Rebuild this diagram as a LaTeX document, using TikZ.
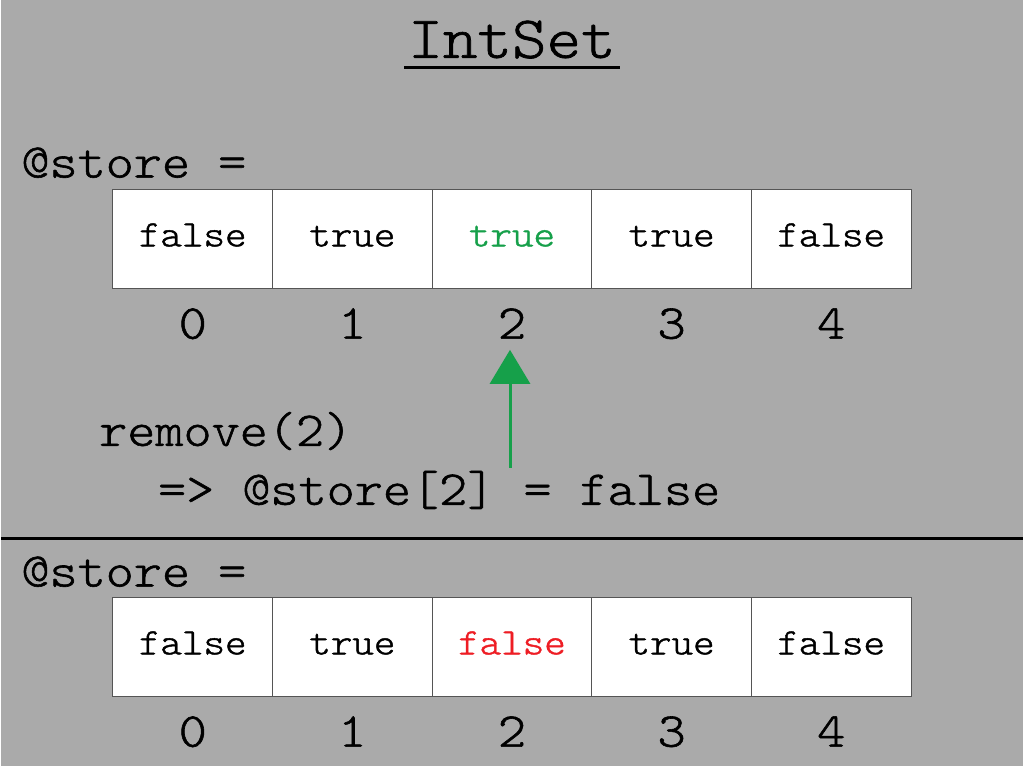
\documentclass[tikz,border=0pt]{standalone}
\usepackage{fontspec}
\setmonofont{lmmonolt10-regular.otf}[FakeStretch=1.1, FakeBold=1.2]
\usetikzlibrary{arrows.meta}

\definecolor{slidegray}{HTML}{AAAAAA}
\definecolor{cellline}{HTML}{555555}
\definecolor{pickgreen}{HTML}{16A04A}
\definecolor{dropred}{HTML}{EE1D24}

\tikzset{
  cell/.style={draw=cellline, line width=1pt, fill=white, minimum width=160pt,
    minimum height=99pt, inner sep=0pt, text height=15pt, text depth=0pt,
    font=\fontsize{37.4}{42}\selectfont\ttfamily},
  index/.style={anchor=base, inner sep=11pt, font=\fontsize{48.8}{56}\selectfont\ttfamily},
  code/.style={anchor=base west, inner sep=0pt, font=\fontsize{48.8}{56}\selectfont\ttfamily},
}

\begin{document}
\begin{tikzpicture}[x=1pt, y=-1pt]

    % Slide background
    \fill[slidegray] (0,0) rectangle (1024,768);

    % Title with underline
    \node[anchor=base, inner sep=0pt, inner xsep=4pt,
      font=\fontsize{60}{66}\selectfont\ttfamily] (title) at (512,58) {IntSet};
    \draw[line width=3pt] ([yshift=-10pt]title.base west) -- ([yshift=-10pt]title.base east);

    % Store before the call
    \node[code] (topstore) at (20,178) {@store =};
    \foreach \val/\col [count=\i from 0] in {false/black, true/black, true/pickgreen, true/black, false/black} {
        \node[cell, text=\col] (t\i) at (192+160*\i,239.5) {\val};
        \node[index] (ti\i) at ([yshift=-50pt]t\i.south) {\i};
    }

    % The call and what it does
    \node[code] (call) at (98,447) {remove(2)};
    \node[code] (effect) at (157,506) {=> @store[2] = false};
    \coordinate (arrowtail) at (510,469);
    \draw[pickgreen, line width=3pt, -{Triangle[width=40pt,length=34pt]}]
      (arrowtail) -- (arrowtail |- ti2.south);

    % Divider
    \draw[line width=2.5pt] (0,540) -- (1024,540);

    % Store after the call
    \node[code] (botstore) at (20,588) {@store =};
    \foreach \val/\col [count=\i from 0] in {false/black, true/black, false/dropred, true/black, false/black} {
        \node[cell, text=\col] (b\i) at (192+160*\i,648.5) {\val};
        \node[index] (bi\i) at ([yshift=-50pt]b\i.south) {\i};
    }

\end{tikzpicture}
\end{document}
